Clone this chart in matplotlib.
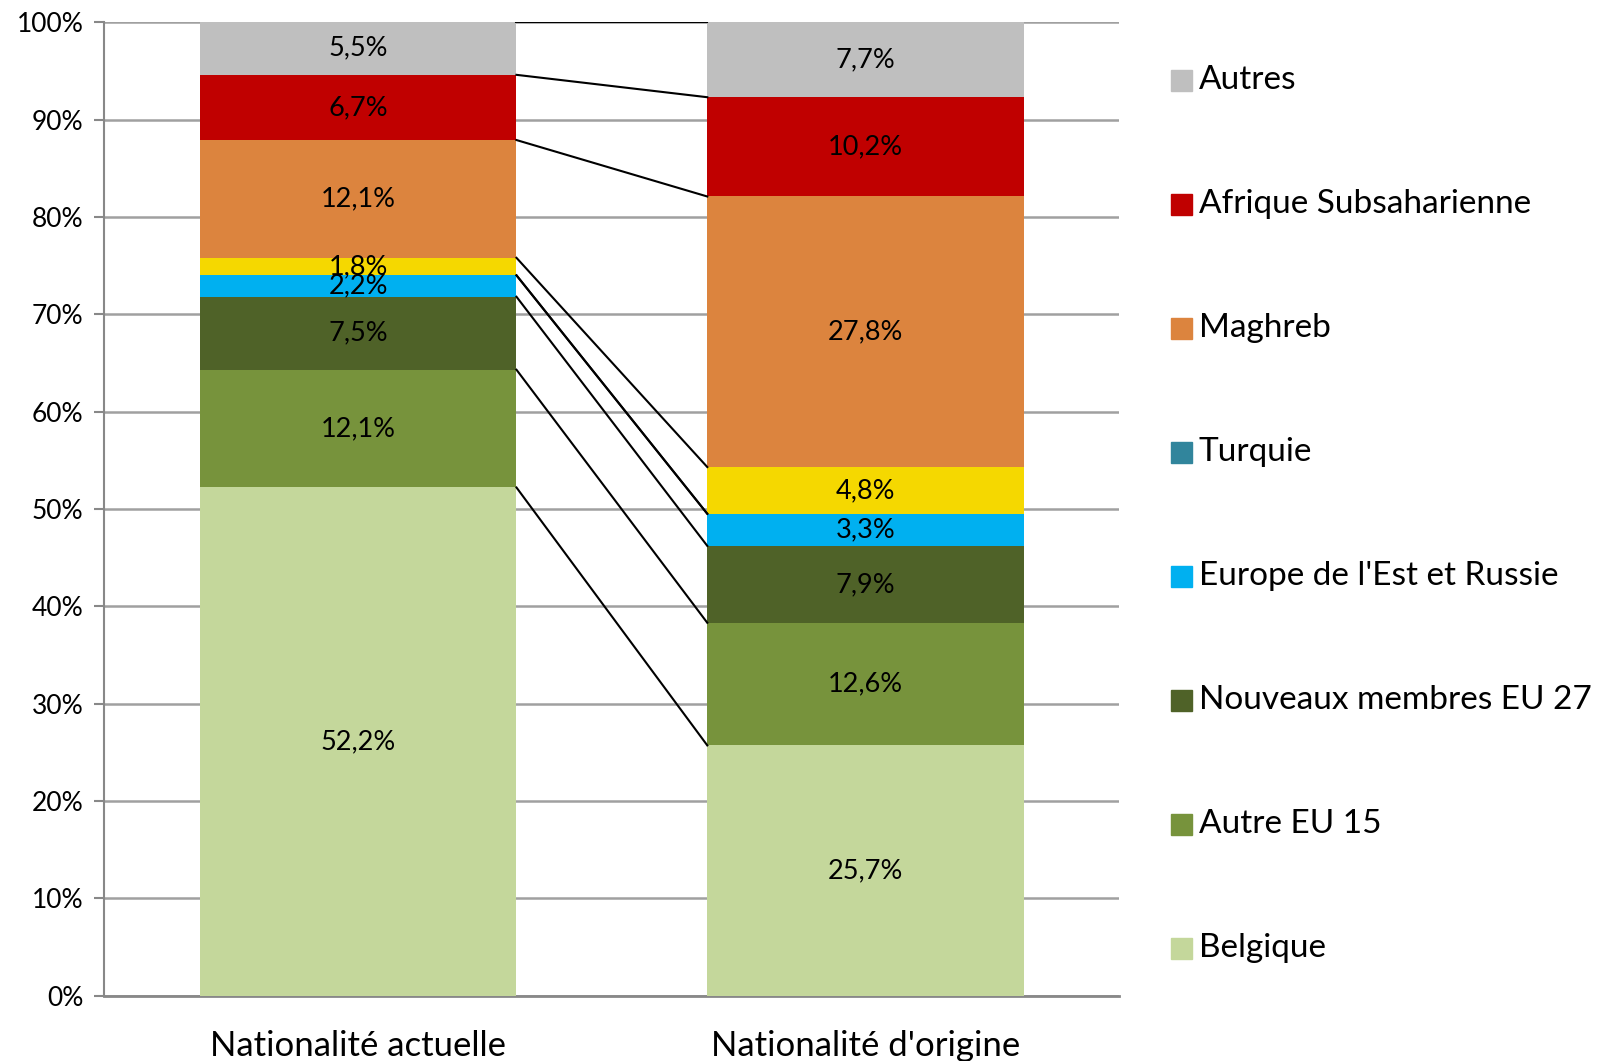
import matplotlib.pyplot as plt
from matplotlib.patches import Rectangle
import numpy as np

plt.rcParams['font.family'] = ['Lato', 'DejaVu Sans']

categories = ["Nationalité actuelle", "Nationalité d'origine"]

# stacked from bottom to top
series_names = ["Belgique", "Autre EU 15", "Nouveaux membres EU 27",
                "Europe de l'Est et Russie", "Turquie", "", "Maghreb",
                "Afrique Subsaharienne", "Autres"]
belgique = [52.2, 25.7]
autre_eu15 = [12.1, 12.6]
nouveaux = [7.5, 7.9]
europe_est = [2.2, 3.3]
turquie = [0.0, 0.0]
jaune = [1.8, 4.8]
maghreb = [12.1, 27.8]
afrique = [6.7, 10.2]
autres = [5.5, 7.7]
values = [belgique, autre_eu15, nouveaux, europe_est, turquie, jaune,
          maghreb, afrique, autres]
colors = ["#C4D79B", "#77933C", "#4F6228", "#00B0F0", "#31859C", "#F5D800",
          "#DC843E", "#C00000", "#BFBFBF"]

fig = plt.figure(figsize=(16.06, 10.61), dpi=100)
ax = fig.add_axes([0.065, 0.0617, 0.632, 0.9173])

x = np.arange(len(categories))
width = 0.624
bottom = np.zeros(len(categories))
tops = []
for vals, col in zip(values, colors):
    vals = np.array(vals)
    ax.bar(x, vals, width, bottom=bottom, color=col, edgecolor='none', zorder=3)
    for i in range(len(x)):
        if vals[i] > 0:
            ax.text(x[i], bottom[i] + vals[i] / 2, ("%.1f%%" % vals[i]).replace('.', ','),
                    ha='center', va='center', fontsize=19.5, zorder=5)
    bottom = bottom + vals
    tops.append(bottom.copy())

# series lines
for t in tops:
    ax.plot([x[0] + width / 2, x[1] - width / 2], [min(t[0], 100), min(t[1], 100)],
            color='black', lw=1.5, zorder=4)

ax.set_xlim(-0.5, 1.5)
ax.set_ylim(0, 100)
ax.set_yticks(np.arange(0, 101, 10))
ax.set_yticklabels(["%d%%" % v for v in range(0, 101, 10)], fontsize=19)
ax.set_xticks(x)
ax.set_xticklabels(categories, fontsize=25)
ax.tick_params(axis='x', length=0, pad=25)
ax.tick_params(axis='y', length=7, width=1.5, color='#888888', pad=8)
ax.grid(axis='y', color='#A0A0A0', lw=1.8, zorder=0)
for s in ['top', 'right']:
    ax.spines[s].set_visible(False)
ax.spines['left'].set_color('#888888')
ax.spines['left'].set_linewidth(1.5)
ax.spines['bottom'].set_color('#888888')
ax.spines['bottom'].set_linewidth(2)

# legend
legend_items = [("Autres", "#BFBFBF"), ("Afrique Subsaharienne", "#C00000"),
                ("Maghreb", "#DC843E"), ("Turquie", "#31859C"),
                ("Europe de l'Est et Russie", "#00B0F0"),
                ("Nouveaux membres EU 27", "#4F6228"),
                ("Autre EU 15", "#77933C"), ("Belgique", "#C4D79B")]
W, H = 1606, 1061
y0, step = 80, 124
for k, (name, col) in enumerate(legend_items):
    yc = y0 + k * step
    fig.add_artist(Rectangle((1171 / W, 1 - (yc + 11) / H), 21 / W, 21 / H,
                             transform=fig.transFigure, color=col))
    fig.text(1199 / W, 1 - yc / H, name, fontsize=24, va='center', ha='left')

fig.savefig("out.png", dpi=100)
